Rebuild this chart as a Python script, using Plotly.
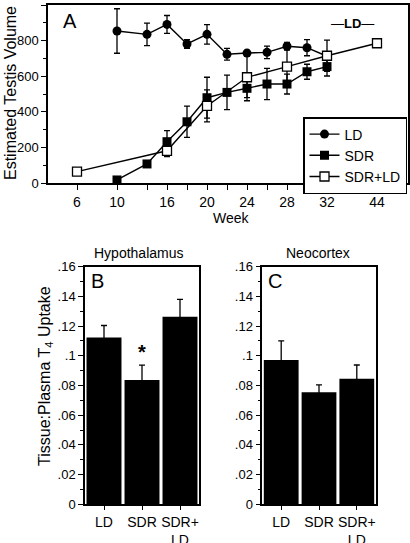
import plotly.graph_objects as go

# ---------------- Panel A data ----------------
ld_weeks = [10, 14, 16, 18, 20, 22, 24, 26, 28, 30, 32]
ld_vol = [854, 835, 891, 781, 835, 723, 730, 734, 768, 760, 712]
ld_err = [125, 63, 50, 25, 55, 33, 15, 35, 22, 45, 0]

sdr_weeks = [10, 14, 16, 18, 20, 22, 24, 26, 28, 30, 32]
sdr_vol = [17, 107, 232, 344, 479, 509, 532, 556, 556, 625, 654]
sdr_err = [0, 0, 62, 88, 115, 97, 52, 88, 56, 42, 53]

sdrld_weeks = [6, 16, 20, 24, 28, 32, 44]
sdrld_vol = [64, 181, 433, 594, 654, 715, 785]
sdrld_err = [0, 32, 90, 132, 110, 88, 0]

week_ticks = ["6", "10", "14", "16", "18", "20", "22", "24", "26", "28", "30", "32", "44"]
week_ticktext = ["6", "10", " ", "16", " ", "20", " ", "24", " ", "28", " ", "32", "44"]

# ---------------- Panels B / C data ----------------
groups = ["LD", "SDR", "SDR+<br>LD"]
hypo_mean = [0.1124, 0.0837, 0.1263]
hypo_err = [0.0080, 0.0100, 0.0117]
neo_mean = [0.0971, 0.0754, 0.0846]
neo_err = [0.0130, 0.0050, 0.0092]
uptake_tickvals = [0, 0.02, 0.04, 0.06, 0.08, 0.10, 0.12, 0.14, 0.16]
uptake_ticktext = ["0", ".02", ".04", ".06", ".08", ".1", ".12", ".14", ".16"]

FONT = "Liberation Sans, Arial, sans-serif"
W, H = 410, 543

def px_x(v):
    return v / W

def px_y(v):
    return 1 - v / H

# category axis for the week scale (uneven spacing like the original)
cat_order = (["6"] + [f"_a{i}" for i in range(3)] + ["10"] + [f"_b{i}" for i in range(2)]
             + [str(w) for w in range(14, 33)] + [f"_c{i}" for i in range(4)] + ["44"])

fig = go.Figure()

fig.add_trace(go.Scatter(x=cat_order, y=[None] * len(cat_order), mode="markers",
                         showlegend=False, hoverinfo="skip", xaxis="x", yaxis="y"))

def err(arr):
    return dict(type="data", array=arr, visible=True, color="black", thickness=1.3, width=3)

fig.add_trace(go.Scatter(
    x=[str(w) for w in ld_weeks], y=ld_vol, name="LD", mode="lines+markers",
    line=dict(color="black", width=1.4),
    marker=dict(symbol="circle", size=9, color="black"),
    error_y=err(ld_err), xaxis="x", yaxis="y"))
fig.add_trace(go.Scatter(
    x=[str(w) for w in sdr_weeks], y=sdr_vol, name="SDR", mode="lines+markers",
    line=dict(color="black", width=1.4),
    marker=dict(symbol="square", size=9, color="black"),
    error_y=err(sdr_err), xaxis="x", yaxis="y"))
fig.add_trace(go.Scatter(
    x=[str(w) for w in sdrld_weeks], y=sdrld_vol, name="SDR+LD", mode="lines+markers",
    line=dict(color="black", width=1.4),
    marker=dict(symbol="square", size=9, color="white", line=dict(color="black", width=1.3)),
    error_y=err(sdrld_err), xaxis="x", yaxis="y"))

bar_err = lambda a: dict(type="data", array=a, visible=True, color="black", thickness=1.3, width=3)
fig.add_trace(go.Bar(x=groups, y=hypo_mean, error_y=bar_err(hypo_err),
                     marker=dict(color="black", line=dict(width=0)), showlegend=False,
                     xaxis="x2", yaxis="y2"))
fig.add_trace(go.Bar(x=groups, y=neo_mean, error_y=bar_err(neo_err),
                     marker=dict(color="black", line=dict(width=0)), showlegend=False,
                     xaxis="x3", yaxis="y3"))

axis_common = dict(showline=True, linecolor="black", linewidth=1.5, mirror=True,
                   showgrid=False, zeroline=False, ticks="outside", ticklen=5,
                   tickwidth=1.2, tickcolor="black", automargin=False)
bar_x_common = {**axis_common, "ticklen": 4}

fig.update_layout(
    width=W, height=H, margin=dict(l=0, r=0, t=0, b=0, autoexpand=False),
    paper_bgcolor="white", plot_bgcolor="white",
    font=dict(family=FONT, color="black", size=13),
    bargap=0.08,
    xaxis=dict(**axis_common, domain=[px_x(48), px_x(408)], anchor="y",
               type="category", categoryorder="array", categoryarray=cat_order,
               range=[-2.9, 33.1], tickmode="array", tickvals=week_ticks,
               ticktext=week_ticktext, tickfont=dict(size=14)),
    yaxis=dict(**axis_common, domain=[px_y(183), px_y(5)], anchor="x",
               range=[0, 1000], dtick=200, tickfont=dict(size=13),
               minor=dict(dtick=100, ticks="outside", ticklen=3, tickcolor="black")),
    xaxis2=dict(**bar_x_common, domain=[px_x(85), px_x(199)], anchor="y2",
                range=[-0.5, 2.5], tickfont=dict(size=14)),
    yaxis2=dict(**axis_common, domain=[px_y(504.3), px_y(266.7)], anchor="x2",
                range=[0, 0.16], tickmode="array", tickvals=uptake_tickvals,
                ticktext=uptake_ticktext, tickfont=dict(size=13),
                minor=dict(tickmode="linear", tick0=0, dtick=0.01, ticks="outside",
                           ticklen=3, tickcolor="black")),
    xaxis3=dict(**bar_x_common, domain=[px_x(262.3), px_x(375.7)], anchor="y3",
                range=[-0.5, 2.5], tickfont=dict(size=14)),
    yaxis3=dict(**axis_common, domain=[px_y(504.3), px_y(266.7)], anchor="x3",
                range=[0, 0.16], tickmode="array", tickvals=uptake_tickvals,
                ticktext=uptake_ticktext, tickfont=dict(size=13),
                minor=dict(tickmode="linear", tick0=0, dtick=0.01, ticks="outside",
                           ticklen=3, tickcolor="black")),
    legend=dict(x=px_x(303), y=px_y(117), xanchor="left", yanchor="top",
                bordercolor="black", borderwidth=1.5, bgcolor="white",
                font=dict(size=14), tracegroupgap=0, itemwidth=30),
)

def ann(text, x, y, size, **kw):
    fig.add_annotation(text=text, x=px_x(x), y=px_y(y), xref="paper", yref="paper",
                       showarrow=False, font=dict(size=size, family=FONT, color="black"),
                       xanchor="center", yanchor="middle", **kw)

ann("A", 70, 21, 20)
ann("\u2014<b>LD</b>\u2014", 352, 23, 13)
ann("Week", 232, 218, 14)
ann("Estimated Testis Volume", 10, 93, 16, textangle=-90)
ann("Tissue:Plasma T<sub>4</sub> Uptake", 45, 376, 16, textangle=-90)
ann("Hypothalamus", 139, 253, 14)
ann("Neocortex", 318, 253, 14)
ann("B", 97, 281, 20)
ann("C", 275, 281, 20)
fig.add_annotation(text="<b>*</b>", x="SDR", y=0.1025, xref="x2", yref="y2",
                   showarrow=False, font=dict(size=20, family=FONT, color="black"),
                   yanchor="middle")

fig.write_html("out.html", config={"displayModeBar": False},
               post_script="document.body.style.margin='0px';document.body.style.padding='0px';"
                           "document.documentElement.style.overflow='hidden';")
